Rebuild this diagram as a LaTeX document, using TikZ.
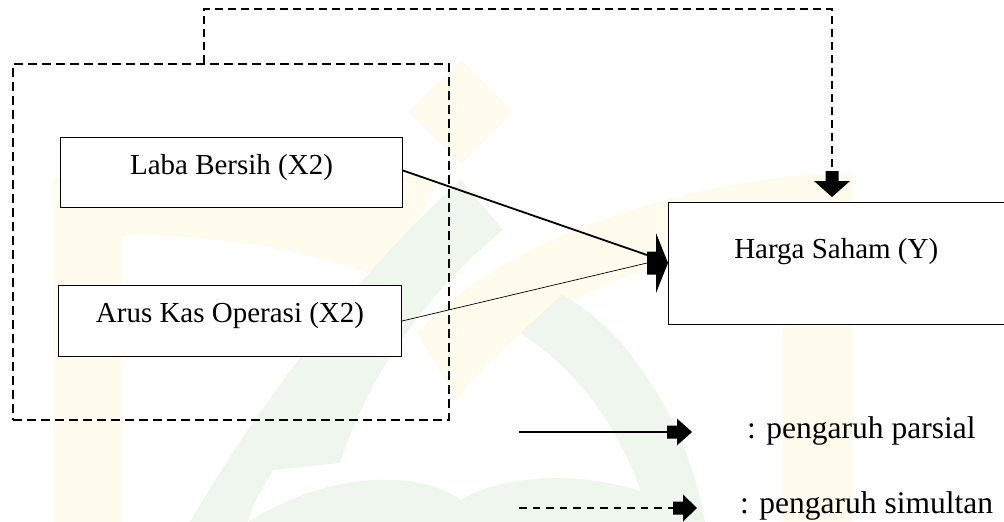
\documentclass[tikz,border=0pt]{standalone}
\usepackage{fontspec}
\setmainfont{Liberation Serif}
\definecolor{wmyellow}{RGB}{255,252,238}
\definecolor{wmgreen}{RGB}{238,246,238}
\tikzset{
  varbox/.style={draw=black, line width=1pt, fill=white, inner sep=0pt,
    font=\fontsize{29}{34}\selectfont, anchor=north west},
  grpbox/.style={draw=black, line width=1.8pt, dash pattern=on 9pt off 5pt,
    inner sep=0pt, anchor=north west},
  simline/.style={line width=1.5pt, dash pattern=on 8pt off 5pt},
  legtext/.style={font=\fontsize{31.5}{36}\selectfont, inner sep=0pt, anchor=base west},
  % block arrow: tip at the origin, pointing along +x
  % #1 shaft length, #2 shaft width, #3 head length, #4 head width
  pics/blockarrow/.style n args={4}{code={
    \fill[black] (0,0) -- (-#3,#4/2) -- (-#3,#2/2) -- (-#3-#1,#2/2)
      -- (-#3-#1,-#2/2) -- (-#3,-#2/2) -- (-#3,-#4/2) -- cycle;}}
}
\begin{document}
\begin{tikzpicture}[x=1pt, y=-1pt]
\useasboundingbox (0,0) rectangle (1004,522);
\clip (0,0) rectangle (1004,522);

% faint logo in the background
\fill[wmyellow] (53,522) -- (53,177) -- (440,177) -- (388,282)
  .. controls (320,250) and (200,232) .. (122,236) -- (122,522) -- cycle;
\fill[wmyellow] (461,60) -- (513,112) -- (461,164) -- (408,112) -- cycle;
\fill[wmyellow] (852,522) -- (852,172) .. controls (680,178) and (500,240) .. (417,333)
  -- (457,400) .. controls (530,300) and (650,255) .. (782,245) -- (782,522) -- cycle;
\fill[wmgreen] (190,522) .. controls (260,400) and (370,260) .. (461,180) -- (503,230)
  .. controls (430,290) and (370,370) .. (340,463) -- (273,470)
  .. controls (262,490) and (252,505) .. (248,522) -- cycle;
\fill[wmgreen] (520,333) -- (562,295) .. controls (630,330) and (690,430) .. (705,522)
  -- (650,522) .. controls (630,440) and (580,370) .. (520,333) -- cycle;
\fill[wmgreen] (248,522) .. controls (330,470) and (420,470) .. (461,500)
  .. controls (510,470) and (620,465) .. (705,522) -- cycle;

% independent variables grouped
\node[grpbox, minimum width=436pt, minimum height=356pt] (grp) at (12,63) {};

\node[varbox, minimum width=342pt, minimum height=70pt,
  text height=37pt, text depth=33pt] (lb) at (60,137) {Laba Bersih (X2)};
\node[varbox, minimum width=343pt, minimum height=71pt,
  text height=37pt, text depth=34pt] (ak) at (58,285) {Arus Kas Operasi (X2)};
\node[varbox, minimum width=335.5pt, minimum height=122.5pt,
  text height=56.5pt, text depth=66pt] (hs) at (668,201.5) {Harga Saham (Y)};

% partial effects
\coordinate (hsin) at (647,263);
\coordinate (hsin2) at (647,255);
\draw[line width=1.8pt] ([yshift=2pt]lb.east) -- (hsin2);
\draw[line width=0.7pt] (ak.east) -- (hsin);
\pic at (668,263) {blockarrow={9}{23}{12}{60}};

% simultaneous effect
\coordinate (gtop) at (204,63);
\coordinate (sdn) at (832,171);
\draw[simline] (gtop) -- ++(0,-54) -| (sdn);
\pic[rotate=-90] at (832,197) {blockarrow={10}{13}{16}{36}};

% legend
\coordinate (l1a) at (519,432);
\coordinate (l1b) at (667,432);
\draw[line width=1.5pt] (l1a) -- (l1b);
\pic at (692,432) {blockarrow={10}{13}{15}{27}};
\node[legtext] (lt1) at (747,438) {: pengaruh parsial};

\coordinate (l2a) at (519,508);
\coordinate (l2b) at (673,508);
\draw[line width=1.5pt, dash pattern=on 7.5pt off 6pt] (l2a) -- (l2b);
\pic at (697,508) {blockarrow={10}{13}{14}{27}};
\node[legtext] (lt2) at (740,513) {: pengaruh simultan};
\end{tikzpicture}
\end{document}
